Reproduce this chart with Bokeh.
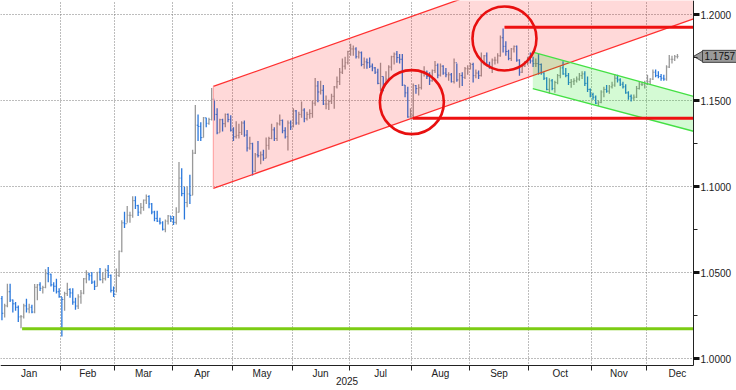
import numpy as np
import pandas as pd
from bokeh.plotting import figure
from bokeh.models import FixedTicker, Range1d, LinearAxis, Label, BoxAnnotation
from bokeh.embed import file_html
from bokeh.resources import INLINE

# ---------------- data (EUR/USD daily, 2025) ----------------
first_open = 1.0355
close = [
    # Jan
    1.0350, 1.0265, 1.0308, 1.0390, 1.0342, 1.0320, 1.0300, 1.0244, 1.0245, 1.0308, 1.0290, 1.0300,
    1.0272, 1.0416, 1.0430, 1.0410, 1.0415, 1.0495, 1.0492, 1.0430, 1.0422, 1.0390, 1.0362,
    # Feb
    1.0345, 1.0379, 1.0403, 1.0383, 1.0330, 1.0307, 1.0360, 1.0382, 1.0465, 1.0492, 1.0483, 1.0446,
    1.0421, 1.0503, 1.0460, 1.0466, 1.0514, 1.0485, 1.0398, 1.0375,
    # Mar
    1.0485, 1.0625, 1.0790, 1.0785, 1.0834, 1.0834, 1.0919, 1.0890, 1.0852, 1.0880, 1.0922, 1.0943,
    1.0900, 1.0853, 1.0816, 1.0800, 1.0790, 1.0753, 1.0800, 1.0830, 1.0815,
    # Apr
    1.0793, 1.0852, 1.1050, 1.0960, 1.0908, 1.0958, 1.0950, 1.1195, 1.1357, 1.1350, 1.1285, 1.1400,
    1.1368, 1.1390, 1.1508, 1.1420, 1.1313, 1.1389, 1.1366, 1.1420, 1.1390, 1.1328,
    # May
    1.1290, 1.1298, 1.1315, 1.1370, 1.1300, 1.1225, 1.1250, 1.1090, 1.1185, 1.1180, 1.1185, 1.1165,
    1.1240, 1.1280, 1.1330, 1.1280, 1.1365, 1.1385, 1.1325, 1.1290, 1.1370, 1.1347,
    # Jun
    1.1440, 1.1370, 1.1420, 1.1445, 1.1395, 1.1420, 1.1425, 1.1485, 1.1585, 1.1550, 1.1560, 1.1480,
    1.1480, 1.1495, 1.1525, 1.1580, 1.1610, 1.1665, 1.1700, 1.1720, 1.1785,
    # Jul
    1.1800, 1.1800, 1.1755, 1.1778, 1.1710, 1.1725, 1.1720, 1.1700, 1.1690, 1.1665, 1.1600, 1.1640,
    1.1595, 1.1625, 1.1695, 1.1755, 1.1770, 1.1750, 1.1740, 1.1590, 1.1545, 1.1405, 1.1415,
    # Aug
    1.1587, 1.1570, 1.1575, 1.1660, 1.1665, 1.1640, 1.1615, 1.1675, 1.1705, 1.1648, 1.1700, 1.1660,
    1.1650, 1.1650, 1.1610, 1.1720, 1.1620, 1.1645, 1.1635, 1.1685, 1.1685,
    # Sep
    1.1710, 1.1645, 1.1660, 1.1645, 1.1720, 1.1760, 1.1710, 1.1695, 1.1735, 1.1735, 1.1760, 1.1865,
    1.1815, 1.1785, 1.1745, 1.1800, 1.1815, 1.1735, 1.1665, 1.1700, 1.1725, 1.1735,
    # Oct
    1.1730, 1.1715, 1.1715, 1.1710, 1.1660, 1.1630, 1.1565, 1.1615, 1.1570, 1.1605, 1.1645, 1.1690,
    1.1655, 1.1645, 1.1605, 1.1610, 1.1615, 1.1625, 1.1645, 1.1655, 1.1600, 1.1565, 1.1535,
    # Nov
    1.1520, 1.1485, 1.1490, 1.1550, 1.1565, 1.1555, 1.1580, 1.1590, 1.1630, 1.1620, 1.1595, 1.1580,
    1.1545, 1.1525, 1.1515, 1.1520, 1.1570, 1.1595, 1.1595, 1.1600,
    # Dec
    1.1610, 1.1625, 1.1665, 1.1645, 1.1640, 1.1630, 1.1625, 1.1695, 1.1740, 1.1740, 1.1755, 1.1757,
]
high = [
    1.0375, 1.0365, 1.0320, 1.0437, 1.0436, 1.0345, 1.0330, 1.0310, 1.0255, 1.0320, 1.0350, 1.0320,
    1.0315, 1.0435, 1.0435, 1.0445, 1.0425, 1.0520, 1.0533, 1.0495, 1.0445, 1.0465, 1.0410,
    1.0360, 1.0390, 1.0442, 1.0410, 1.0410, 1.0355, 1.0375, 1.0400, 1.0470, 1.0515, 1.0500, 1.0505,
    1.0455, 1.0505, 1.0528, 1.0505, 1.0525, 1.0545, 1.0490, 1.0420,
    1.0525, 1.0630, 1.0805, 1.0855, 1.0888, 1.0855, 1.0945, 1.0945, 1.0895, 1.0905, 1.0925, 1.0955,
    1.0950, 1.0905, 1.0860, 1.0860, 1.0820, 1.0800, 1.0810, 1.0835, 1.0830,
    1.0830, 1.0880, 1.1144, 1.1107, 1.1000, 1.1000, 1.1070, 1.1215, 1.1475, 1.1420, 1.1375, 1.1405,
    1.1400, 1.1400, 1.1573, 1.1500, 1.1455, 1.1395, 1.1395, 1.1425, 1.1425, 1.1415,
    1.1345, 1.1380, 1.1365, 1.1380, 1.1385, 1.1330, 1.1290, 1.1255, 1.1195, 1.1265, 1.1205, 1.1215,
    1.1285, 1.1290, 1.1365, 1.1345, 1.1375, 1.1420, 1.1390, 1.1345, 1.1385, 1.1385,
    1.1455, 1.1445, 1.1435, 1.1495, 1.1455, 1.1435, 1.1450, 1.1500, 1.1631, 1.1614, 1.1615, 1.1590,
    1.1530, 1.1505, 1.1540, 1.1585, 1.1640, 1.1690, 1.1745, 1.1755, 1.1790,
    1.1830, 1.1820, 1.1810, 1.1790, 1.1785, 1.1750, 1.1745, 1.1750, 1.1715, 1.1695, 1.1685, 1.1720,
    1.1640, 1.1670, 1.1705, 1.1760, 1.1780, 1.1788, 1.1770, 1.1770, 1.1590, 1.1580, 1.1455,
    1.1600, 1.1590, 1.1595, 1.1670, 1.1700, 1.1675, 1.1665, 1.1680, 1.1730, 1.1715, 1.1715, 1.1705,
    1.1690, 1.1665, 1.1660, 1.1745, 1.1715, 1.1660, 1.1665, 1.1695, 1.1705,
    1.1720, 1.1720, 1.1680, 1.1675, 1.1780, 1.1765, 1.1780, 1.1725, 1.1745, 1.1755, 1.1775, 1.1878,
    1.1918, 1.1845, 1.1795, 1.1805, 1.1820, 1.1820, 1.1740, 1.1710, 1.1730, 1.1755,
    1.1780, 1.1755, 1.1745, 1.1770, 1.1715, 1.1665, 1.1635, 1.1630, 1.1625, 1.1615, 1.1655, 1.1700,
    1.1728, 1.1690, 1.1660, 1.1625, 1.1630, 1.1640, 1.1660, 1.1670, 1.1670, 1.1640, 1.1570,
    1.1545, 1.1530, 1.1500, 1.1560, 1.1580, 1.1590, 1.1590, 1.1610, 1.1655, 1.1650, 1.1630, 1.1610,
    1.1595, 1.1555, 1.1535, 1.1535, 1.1585, 1.1610, 1.1610, 1.1615,
    1.1650, 1.1630, 1.1680, 1.1680, 1.1670, 1.1655, 1.1650, 1.1705, 1.1765, 1.1760, 1.1765, 1.1770,
]
low = [
    1.0340, 1.0225, 1.0240, 1.0300, 1.0330, 1.0270, 1.0280, 1.0215, 1.0178, 1.0235, 1.0270, 1.0265,
    1.0265, 1.0265, 1.0340, 1.0395, 1.0380, 1.0410, 1.0445, 1.0420, 1.0390, 1.0380, 1.0355,
    1.0130, 1.0280, 1.0365, 1.0355, 1.0315, 1.0285, 1.0290, 1.0320, 1.0375, 1.0440, 1.0455, 1.0435,
    1.0400, 1.0420, 1.0455, 1.0440, 1.0455, 1.0470, 1.0385, 1.0360,
    1.0385, 1.0475, 1.0620, 1.0760, 1.0790, 1.0790, 1.0820, 1.0870, 1.0830, 1.0840, 1.0860, 1.0900,
    1.0875, 1.0840, 1.0800, 1.0795, 1.0780, 1.0745, 1.0735, 1.0780, 1.0795,
    1.0778, 1.0780, 1.0850, 1.0945, 1.0810, 1.0880, 1.0900, 1.0950, 1.1190, 1.1265, 1.1265, 1.1285,
    1.1345, 1.1360, 1.1385, 1.1385, 1.1305, 1.1315, 1.1320, 1.1345, 1.1375, 1.1320,
    1.1265, 1.1280, 1.1280, 1.1300, 1.1290, 1.1205, 1.1215, 1.1065, 1.1085, 1.1170, 1.1130, 1.1150,
    1.1165, 1.1215, 1.1275, 1.1265, 1.1265, 1.1355, 1.1310, 1.1280, 1.1210, 1.1330,
    1.1345, 1.1360, 1.1360, 1.1400, 1.1375, 1.1385, 1.1395, 1.1400, 1.1470, 1.1490, 1.1535, 1.1475,
    1.1450, 1.1446, 1.1480, 1.1452, 1.1570, 1.1590, 1.1655, 1.1680, 1.1710,
    1.1760, 1.1760, 1.1745, 1.1745, 1.1700, 1.1685, 1.1685, 1.1690, 1.1670, 1.1655, 1.1595, 1.1555,
    1.1555, 1.1590, 1.1615, 1.1675, 1.1710, 1.1720, 1.1715, 1.1585, 1.1520, 1.1400, 1.1400,
    1.1392, 1.1540, 1.1530, 1.1565, 1.1640, 1.1625, 1.1590, 1.1610, 1.1660, 1.1630, 1.1640, 1.1650,
    1.1635, 1.1615, 1.1605, 1.1600, 1.1610, 1.1575, 1.1585, 1.1625, 1.1650,
    1.1680, 1.1605, 1.1630, 1.1625, 1.1640, 1.1705, 1.1700, 1.1685, 1.1660, 1.1710, 1.1715, 1.1755,
    1.1780, 1.1760, 1.1735, 1.1730, 1.1780, 1.1725, 1.1645, 1.1660, 1.1695, 1.1705,
    1.1715, 1.1695, 1.1695, 1.1650, 1.1650, 1.1620, 1.1560, 1.1540, 1.1560, 1.1545, 1.1595, 1.1630,
    1.1650, 1.1635, 1.1590, 1.1575, 1.1590, 1.1605, 1.1615, 1.1625, 1.1585, 1.1550, 1.1520,
    1.1505, 1.1480, 1.1468, 1.1485, 1.1520, 1.1545, 1.1540, 1.1570, 1.1580, 1.1605, 1.1585, 1.1570,
    1.1540, 1.1505, 1.1495, 1.1500, 1.1515, 1.1565, 1.1585, 1.1570,
    1.1590, 1.1590, 1.1620, 1.1635, 1.1630, 1.1615, 1.1615, 1.1615, 1.1690, 1.1715, 1.1730, 1.1745,
]

month_names = ["Jan", "Feb", "Mar", "Apr", "May", "Jun", "Jul", "Aug", "Sep", "Oct", "Nov", "Dec"]
year_label = "2025"
y_ticks = [1.0000, 1.0500, 1.1000, 1.1500, 1.2000]
y_minor = [1.0250, 1.0750, 1.1250, 1.1750]
last_price = 1.1757

# annotations (bar index, price)
up_chan_x = [78.6, 254.9]
up_chan_lower = [1.0990, 1.1975]
up_chan_upper = [1.1582, 1.2567]
down_chan_x = [195.9, 254.9]
down_chan_upper = [1.1781, 1.1525]
down_chan_lower = [1.1569, 1.1322]
support_level = 1.0175
support_start = 8.4
resist_levels = [1.1926, 1.1398]
resist_starts = [185.5, 151.8]
circle_x = [151.5, 185.5]
circle_y = [1.1491, 1.1861]

# ---------------- derived ----------------
n = len(close)
xi = np.arange(n)
opens = [first_open] + close[:-1]
c = np.array(close)
o = np.array(opens)
h = np.array(high)
lo = np.array(low)
down = c < o
cols = np.where(down, "#2a78dc", "#999999")

days = pd.bdate_range("2025-01-01", "2025-12-31")
centers, bounds = [], []
for m in range(1, 13):
    idx = np.where(days.month == m)[0]
    centers.append((idx.min() + idx.max()) / 2.0)
    bounds.append(idx.min() - 0.5)

# plot area: 693 x 365 px inside a 736 x 390 canvas; margins are part of the frame
W, H, PW, PH = 736, 390, 693, 365
X_START, X_END = 0.47, 254.9
Y_START, Y_END = 0.99617, 1.20813
dx = (X_END - X_START) / PW
dy = (Y_END - Y_START) / PH
FONT = "Liberation Sans"
TXT = "#222222"

p = figure(width=W, height=H, output_backend="svg", toolbar_location=None,
           x_range=Range1d(X_START, X_END + (W - PW) * dx),
           y_range=Range1d(Y_START - (H - PH) * dy, Y_END),
           y_axis_location="right", min_border=0)
p.outline_line_color = None
p.background_fill_color = "white"
p.border_fill_color = "white"

# grid
p.xgrid.ticker = FixedTicker(ticks=bounds[1:])
p.ygrid.ticker = FixedTicker(ticks=y_ticks)
for g in (p.xgrid, p.ygrid):
    g.grid_line_color = "#7a7a7a"
    g.grid_line_dash = "1 2"
    g.grid_line_width = 1

# white margins hide the grid outside the plot area
p.add_layout(BoxAnnotation(left=X_END, fill_color="white", fill_alpha=1.0,
                           line_color=None, level="underlay"))
p.add_layout(BoxAnnotation(top=Y_START, fill_color="white", fill_alpha=1.0,
                           line_color=None, level="underlay"))

# x axis (months)
xa = p.xaxis[0]
xa.fixed_location = Y_START
xa.bounds = (X_START, X_END)
xa.ticker = FixedTicker(ticks=centers, minor_ticks=bounds)
xa.major_label_overrides = {cc: nm for cc, nm in zip(centers, month_names)}
xa.major_tick_out = 0
xa.major_tick_in = 0
xa.minor_tick_out = 5
xa.minor_tick_in = 0
xa.minor_tick_line_color = TXT
xa.axis_line_color = TXT
xa.major_label_standoff = -3
xa.major_label_text_font = FONT
xa.major_label_text_font_size = "10px"
xa.major_label_text_color = TXT

# year label
year_pos = (X_START + X_END) / 2.0
yr = LinearAxis(fixed_location=Y_START, ticker=FixedTicker(ticks=[year_pos], minor_ticks=[]),
                major_label_overrides={year_pos: year_label}, axis_line_color=None,
                major_tick_out=0, major_tick_in=0, minor_tick_out=0, minor_tick_in=0,
                major_label_standoff=11, major_label_text_font=FONT,
                major_label_text_font_size="10px", major_label_text_color=TXT)
p.add_layout(yr, "below")

# y axis
ya = p.yaxis[0]
ya.fixed_location = X_END
ya.bounds = (Y_START, Y_END)
ya.ticker = FixedTicker(ticks=y_ticks, minor_ticks=y_minor)
ya.major_label_overrides = {t: f"{t:.4f}" for t in y_ticks}
ya.major_tick_out = 6
ya.major_tick_in = 0
ya.major_tick_line_width = 3
ya.major_tick_line_color = "#111111"
ya.minor_tick_out = 4
ya.minor_tick_in = 0
ya.minor_tick_line_color = TXT
ya.axis_line_color = TXT
ya.major_label_standoff = 1
ya.major_label_text_font = FONT
ya.major_label_text_font_size = "10px"
ya.major_label_text_color = TXT

# OHLC bars
p.segment(x0=xi, y0=lo, x1=xi, y1=h, line_color=cols, line_width=1.3)
p.segment(x0=xi - 0.4, y0=o, x1=xi, y1=o, line_color=cols, line_width=1)
p.segment(x0=xi, y0=c, x1=xi + 0.4, y1=c, line_color=cols, line_width=1)

# rising channel
p.patch(x=[up_chan_x[0], up_chan_x[1], up_chan_x[1], up_chan_x[0]],
        y=[up_chan_lower[0], up_chan_lower[1], up_chan_upper[1], up_chan_upper[0]],
        fill_color="#ff0000", fill_alpha=0.15, line_color=None)
p.line(up_chan_x, up_chan_lower, line_color="#ff3030", line_width=1.3)
p.line(up_chan_x, up_chan_upper, line_color="#ff3030", line_width=1.3)
p.line([up_chan_x[0], up_chan_x[0]], [up_chan_lower[0], up_chan_upper[0]],
       line_color="#ff9a9a", line_width=1)

# falling channel
p.patch(x=[down_chan_x[0], down_chan_x[1], down_chan_x[1], down_chan_x[0]],
        y=[down_chan_lower[0], down_chan_lower[1], down_chan_upper[1], down_chan_upper[0]],
        fill_color="#00e000", fill_alpha=0.17, line_color=None)
p.line(down_chan_x, down_chan_upper, line_color="#44e044", line_width=1.3)
p.line(down_chan_x, down_chan_lower, line_color="#44e044", line_width=1.3)

# support / resistance
p.segment(x0=[support_start], y0=[support_level], x1=[X_END], y1=[support_level],
          line_color="#7ccc14", line_width=3)
p.segment(x0=resist_starts, y0=resist_levels, x1=[X_END] * 2, y1=resist_levels,
          line_color="#ee1111", line_width=3)

# circles
p.scatter(circle_x, circle_y, marker="circle", size=64, fill_alpha=0,
          line_color="#e81010", line_width=2.6)

# last price tag
p.scatter([X_END + 7 * dx], [last_price], marker="triangle", angle=np.pi / 2, size=12,
          fill_color="#9a9a9a", line_color="#444444", line_width=1)
p.add_layout(Label(x=X_END, y=last_price, text=f"{last_price:.4f}", x_offset=9,
                   text_baseline="middle", text_align="left", text_font=FONT,
                   text_font_size="10px", text_color="#111111",
                   background_fill_color="#9a9a9a", border_line_color="#444444",
                   padding=2))

open("out.html", "w").write(file_html(p, INLINE))
